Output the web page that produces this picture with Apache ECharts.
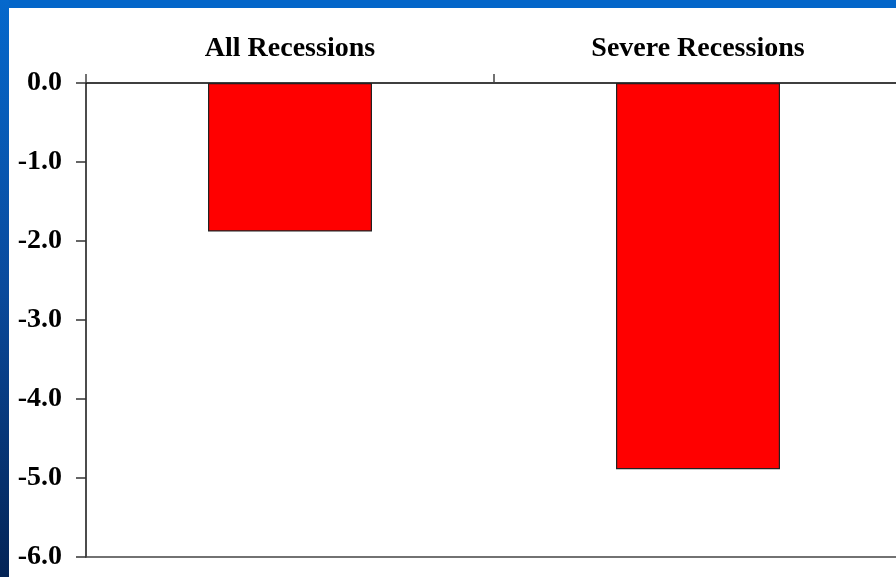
<!DOCTYPE html>
<html>
<head>
<meta charset="utf-8">
<script src="https://cdn.jsdelivr.net/npm/echarts@6/dist/echarts.min.js"></script>
<style>
  html, body { margin: 0; padding: 0; background: #fff; overflow: hidden; }
  #chart { width: 910px; height: 577px; }
</style>
</head>
<body>
<div id="chart"></div>
<script>
// Output change during recessions
var categories = ['All Recessions', 'Severe Recessions'];
var values = [-1.88, -4.89];
var yMin = -6, yMax = 0, yStep = 1;

var chart = echarts.init(document.getElementById('chart'));
var fontFamily = '"Liberation Serif", "Times New Roman", serif';

chart.setOption({
  backgroundColor: '#ffffff',
  animation: false,
  graphic: [
    {
      type: 'rect', left: 0, top: 0, z: 100,
      shape: { width: 910, height: 8 },
      style: { fill: '#0466c9' }
    },
    {
      type: 'rect', left: 0, top: 0, z: 100,
      shape: { width: 9, height: 577 },
      style: {
        fill: {
          type: 'linear', x: 0, y: 0, x2: 0, y2: 1,
          colorStops: [
            { offset: 0, color: '#0568cc' },
            { offset: 0.5, color: '#0a4a9c' },
            { offset: 1, color: '#042456' }
          ]
        }
      }
    }
  ],
  grid: { left: 86, top: 83, width: 816, height: 474, containLabel: false },
  xAxis: [
    {
      type: 'category',
      data: categories,
      position: 'top',
      axisLine: { show: true, lineStyle: { color: '#000', width: 1.5 } },
      axisTick: { show: true, length: 9, lineStyle: { color: '#444', width: 1.5 } },
      axisLabel: {
        margin: 20,
        color: '#000',
        fontFamily: fontFamily,
        fontWeight: 'bold',
        fontSize: 28
      }
    },
    {
      type: 'category',
      data: categories,
      position: 'bottom',
      axisLine: { show: true, onZero: false, lineStyle: { color: '#444', width: 1.5 } },
      axisTick: { show: false },
      axisLabel: { show: false }
    }
  ],
  yAxis: {
    type: 'value',
    min: yMin,
    max: yMax,
    interval: yStep,
    axisLine: { show: true, lineStyle: { color: '#111', width: 1.5 } },
    axisTick: { show: true, length: 10, lineStyle: { color: '#333', width: 1.5 } },
    splitLine: { show: false },
    axisLabel: {
      margin: 24,
      padding: [6, 0, 0, 0],
      color: '#000',
      fontFamily: fontFamily,
      fontWeight: 'bold',
      fontSize: 28,
      formatter: function (v) { return v.toFixed(1); }
    }
  },
  series: [
    {
      type: 'bar',
      data: values,
      barWidth: 164,
      itemStyle: { color: '#ff0000', borderColor: '#222', borderWidth: 1.2 }
    }
  ]
});
</script>
</body>
</html>
